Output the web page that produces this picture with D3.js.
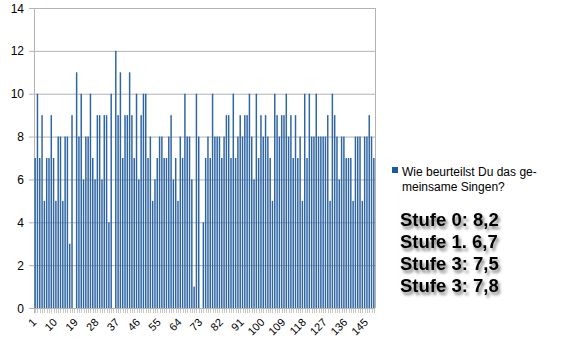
<!DOCTYPE html>
<html><head><meta charset="utf-8">
<script src="https://cdn.jsdelivr.net/npm/d3@7/dist/d3.min.js"></script>
<style>body{margin:0;background:#fff}svg{display:block}</style>
</head><body>
<svg id="chart" width="575" height="357"></svg>
<script>
const values = [
 7,10,7,9,5,7,7,9,7,5,8,8,5,8,8,3,9,0,11,8,10,6,8,8,
 10,7,6,9,9,6,9,9,4,10,0,12,9,11,7,9,9,11,9,7,10,6,9,10,10,
 7,8,5,6,7,8,8,7,7,8,9,6,7,5,8,7,10,8,8,6,1,10,8,0,
 4,7,8,7,10,8,8,8,7,8,9,9,7,10,7,8,9,8,9,9,10,8,6,10,7,9,
 8,9,8,7,5,10,9,8,9,9,10,8,9,7,9,7,8,5,10,7,10,8,8,10,8,
 8,8,8,9,5,10,9,8,6,8,8,7,7,7,5,8,8,8,5,8,8,9,8,7
];
const categories = values.map((_, i) => i + 1);
const xTickLabels = [1,10,19,28,37,46,55,64,73,82,91,100,109,118,127,136,145];
const yTicks = [0,2,4,6,8,10,12,14];
const legendLines = ["Wie beurteilst Du das ge-", "meinsame Singen?"];
const notes = ["Stufe 0: 8,2", "Stufe 1. 6,7", "Stufe 3: 7,5", "Stufe 3: 7,8"];

const svg = d3.select("#chart");
const pL = 34, pR = 375, pT = 8, pB = 308;
const font = "'Liberation Sans', Arial, sans-serif";

const x = d3.scaleBand().domain(categories).range([pL, pR]).paddingInner(0.36).paddingOuter(0.18);
const y = d3.scaleLinear().domain([0, 14]).range([pB, pT]);

const defs = svg.append("defs");
const f = defs.append("filter").attr("id", "shadow").attr("x", "-10%").attr("y", "-20%").attr("width", "130%").attr("height", "160%");
f.append("feDropShadow").attr("dx", 2).attr("dy", 3).attr("stdDeviation", 1.4).attr("flood-color", "#000").attr("flood-opacity", 0.5);

// gridlines
svg.append("g").selectAll("line").data(yTicks).join("line")
  .attr("x1", pL - 5).attr("x2", pR).attr("y1", d => y(d) + 0.5).attr("y2", d => y(d) + 0.5)
  .attr("stroke", "#b3b3b3").attr("stroke-width", 1);
// right border
svg.append("line").attr("x1", pR + 0.5).attr("x2", pR + 0.5).attr("y1", pT).attr("y2", pB)
  .attr("stroke", "#b3b3b3");
// left axis line
svg.append("line").attr("x1", pL + 0.5).attr("x2", pL + 0.5).attr("y1", pT).attr("y2", pB + 5)
  .attr("stroke", "#b3b3b3");

// y labels
svg.append("g").selectAll("text").data(yTicks).join("text")
  .attr("x", 24).attr("y", d => y(d) + 4.5).attr("text-anchor", "end")
  .attr("font-family", font).attr("font-size", 12).attr("fill", "#000").text(d => d);

// x minor ticks
svg.append("g").selectAll("line").data(categories).join("line")
  .attr("x1", d => Math.round(x(d) + x.bandwidth() / 2) + 0.5).attr("x2", d => Math.round(x(d) + x.bandwidth() / 2) + 0.5)
  .attr("y1", pB).attr("y2", pB + 5).attr("stroke", "#c8c8c8");

// bars
svg.append("g").selectAll("rect").data(values).join("rect")
  .attr("x", (d, i) => x(categories[i])).attr("width", x.bandwidth())
  .attr("y", d => y(d)).attr("height", d => y(0) - y(d))
  .attr("fill", "#2e65a3");

// x axis line
svg.append("line").attr("x1", pL).attr("x2", pR).attr("y1", pB + 0.5).attr("y2", pB + 0.5).attr("stroke", "#b3b3b3");

// x labels
svg.append("g").selectAll("text").data(xTickLabels).join("text")
  .attr("transform", d => `translate(${x(d) + x.bandwidth() / 2 + 2},${pB + 15}) rotate(-45)`)
  .attr("text-anchor", "end").attr("font-family", font).attr("font-size", 11).attr("fill", "#000").text(d => d);

// legend
svg.append("rect").attr("x", 392).attr("y", 167).attr("width", 6).attr("height", 6).attr("fill", "#1f5b98");
svg.append("g").selectAll("text").data(legendLines).join("text")
  .attr("x", 402).attr("y", (d, i) => 176 + i * 15)
  .attr("font-family", font).attr("font-size", 12).attr("fill", "#000").text(d => d);

// notes
svg.append("g").selectAll("text").data(notes).join("text")
  .attr("x", 400).attr("y", (d, i) => 226 + i * 22)
  .attr("font-family", font).attr("font-size", 18.5).attr("font-weight", "bold").attr("fill", "#000")
  .attr("filter", "url(#shadow)").text(d => d);
</script>
</body></html>
